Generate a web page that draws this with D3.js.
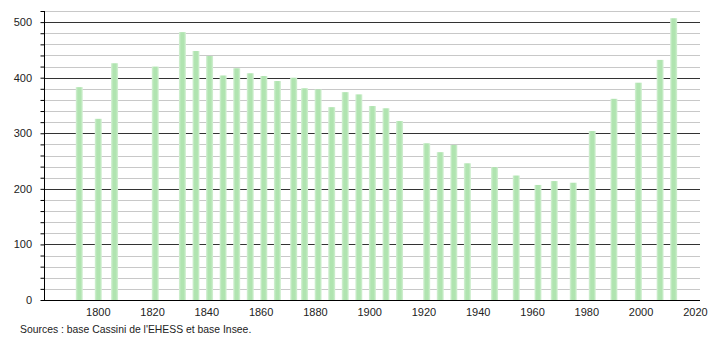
<!DOCTYPE html>
<html>
<head>
<meta charset="utf-8">
<script src="https://cdn.jsdelivr.net/npm/d3@7"></script>
<style>
  body { margin: 0; background: #fff; }
  text { font-family: "Liberation Sans", Arial, sans-serif; }
</style>
</head>
<body>
<div id="chart"></div>
<script>
const years = [1793, 1800, 1806, 1821, 1831, 1836, 1841, 1846, 1851, 1856, 1861, 1866, 1872, 1876,
    1881, 1886, 1891, 1896, 1901, 1906, 1911, 1921, 1926, 1931, 1936, 1946, 1954, 1962, 1968,
    1975, 1982, 1990, 1999, 2007, 2012];
const population = [383, 326, 426, 420, 482, 448, 439, 404, 417, 408, 403, 394, 400, 381,
    379, 347, 374, 370, 349, 345, 322, 282, 266, 279, 246, 239, 224, 207, 214,
    211, 304, 362, 391, 432, 507];
const xTicks = [1800, 1820, 1840, 1860, 1880, 1900, 1920, 1940, 1960, 1980, 2000, 2020];
const yTicks = [0, 100, 200, 300, 400, 500];
const source = "Sources : base Cassini de l'EHESS et base Insee.";

const width = 710;
const height = 340;
const margin = { top: 11, right: 10, bottom: 40, left: 44 };

const svg = d3.select("#chart")
    .append("svg")
    .attr("width", width)
    .attr("height", height);

const x = d3.scaleLinear()
    .domain([1780, 2021.7])
    .range([margin.left, width - margin.right]);

const y = d3.scaleLinear()
    .domain([0, 520])
    .range([height - margin.bottom, margin.top]);

// soft edged bars
const grad = svg.append("defs").append("linearGradient")
    .attr("id", "bar")
    .attr("x1", "0%").attr("x2", "100%");
grad.append("stop").attr("offset", "0%").attr("stop-color", "#d6f1d6");
grad.append("stop").attr("offset", "30%").attr("stop-color", "#b0e4b0");
grad.append("stop").attr("offset", "70%").attr("stop-color", "#b0e4b0");
grad.append("stop").attr("offset", "100%").attr("stop-color", "#d6f1d6");

// grid every 20, darker every 100
const gridVals = d3.range(20, 521, 20);
svg.append("g")
    .selectAll("line")
    .data(gridVals)
    .join("line")
    .attr("x1", margin.left)
    .attr("x2", width - margin.right)
    .attr("y1", d => Math.round(y(d)) + 0.5)
    .attr("y2", d => Math.round(y(d)) + 0.5)
    .attr("stroke", d => d % 100 === 0 ? "#333" : "#c8c8c8")
    .attr("stroke-width", 1);

// bars
svg.append("g")
    .selectAll("rect")
    .data(years)
    .join("rect")
    .attr("x", d => x(d) - 3.5)
    .attr("width", 7)
    .attr("y", (d, i) => y(population[i]))
    .attr("height", (d, i) => y(0) - y(population[i]))
    .attr("fill", "url(#bar)");

// y axis
const yAxis = svg.append("g")
    .attr("transform", `translate(${margin.left + 0.5},0)`)
    .call(d3.axisLeft(y).tickValues(d3.range(0, 521, 20)).tickSize(4).tickFormat(""));
yAxis.select(".domain").attr("d", `M0,${y(520)}V${y(0)}`).attr("stroke", "#000");
yAxis.selectAll(".tick line").attr("stroke", "#000");

svg.append("g")
    .selectAll("text")
    .data(yTicks)
    .join("text")
    .attr("x", 32)
    .attr("y", d => y(d))
    .attr("dy", "0.35em")
    .attr("text-anchor", "end")
    .attr("font-size", 11)
    .attr("fill", "#222")
    .text(d => d);

// x axis
svg.append("line")
    .attr("x1", margin.left)
    .attr("x2", width - margin.right)
    .attr("y1", y(0) + 0.5)
    .attr("y2", y(0) + 0.5)
    .attr("stroke", "#000");

svg.append("g")
    .selectAll("text")
    .data(xTicks)
    .join("text")
    .attr("x", d => x(d))
    .attr("y", y(0) + 16)
    .attr("text-anchor", "middle")
    .attr("font-size", 11)
    .attr("fill", "#222")
    .text(d => d);

svg.append("text")
    .attr("x", 20)
    .attr("y", 333)
    .attr("font-size", 10.4)
    .attr("fill", "#222")
    .text(source);
</script>
</body>
</html>
